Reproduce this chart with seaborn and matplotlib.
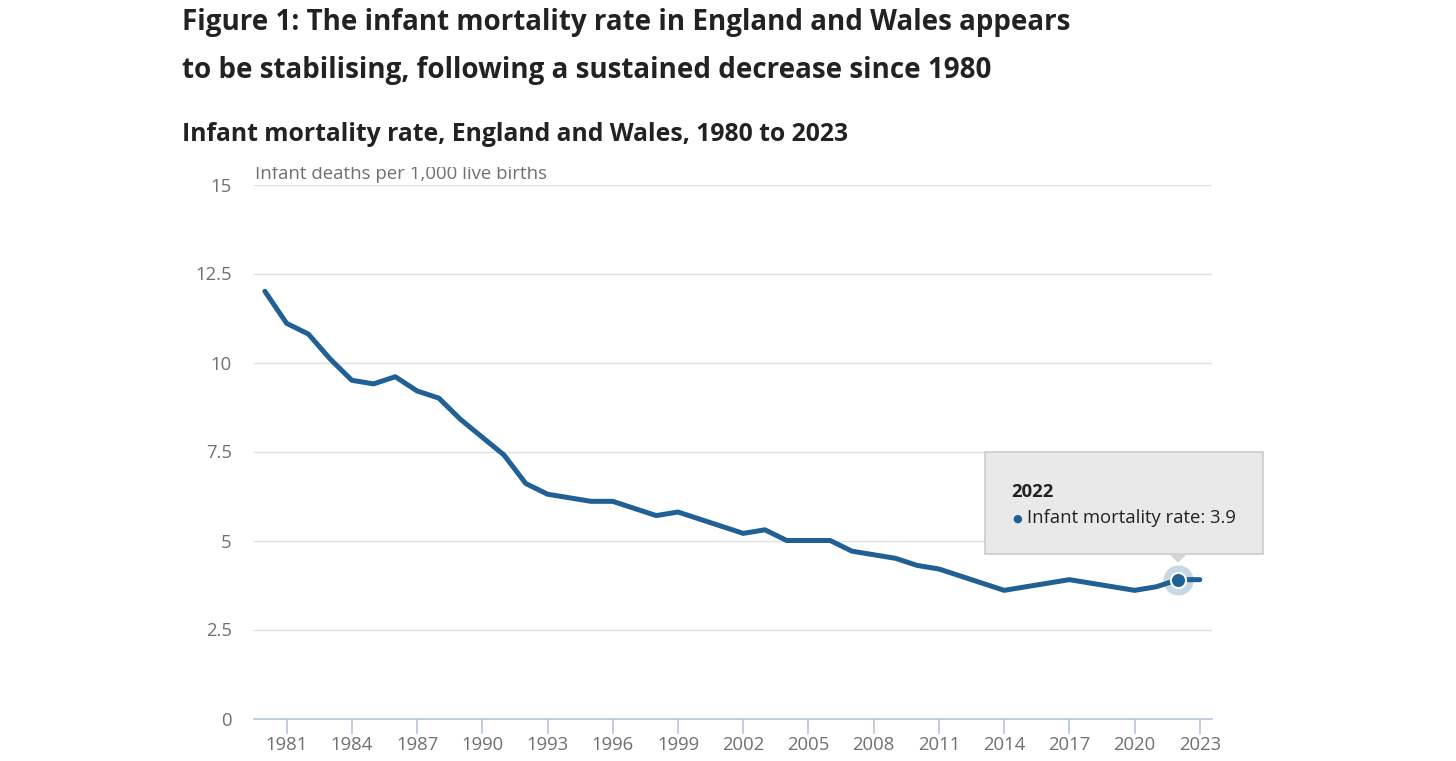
import pandas as pd
import numpy as np
import matplotlib
matplotlib.use('Agg')
import matplotlib.pyplot as plt
import matplotlib.transforms as mtransforms
from matplotlib.patches import Rectangle, Polygon
import seaborn as sns

# Infant deaths per 1,000 live births, England and Wales
years = list(range(1980, 2024))
rates = [12.0, 11.1, 10.8, 10.1, 9.5, 9.4, 9.6, 9.2, 9.0, 8.4,
         7.9, 7.4, 6.6, 6.3, 6.2, 6.1, 6.1, 5.9, 5.7, 5.8,
         5.6, 5.4, 5.2, 5.3, 5.0, 5.0, 5.0, 4.7, 4.6, 4.5,
         4.3, 4.2, 4.0, 3.8, 3.6, 3.7, 3.8, 3.9, 3.8, 3.7,
         3.6, 3.7, 3.9, 3.9]
x_ticks = list(range(1981, 2024, 3))
y_ticks = [0, 2.5, 5, 7.5, 10, 12.5, 15]
y_tick_labels = ['0', '2.5', '5', '7.5', '10', '12.5', '15']
hover_year = 2022

df = pd.DataFrame({'year': years, 'rate': rates})

sns.set_theme(style='white')
plt.rcParams['font.family'] = ['Open Sans', 'DejaVu Sans']

LINE = '#206095'
GRID = '#e0e0e0'
AXIS = '#b8c6dc'
TICKTXT = '#707070'
DARK = '#222222'

W, H = 1456, 761
fig = plt.figure(figsize=(W / 100, H / 100), dpi=100)
ax = fig.add_axes([254 / W, (H - 718.5) / H, (1212 - 254) / W, (718.5 - 184.5) / H])

sns.lineplot(data=df, x='year', y='rate', ax=ax, color=LINE, linewidth=3.6,
             solid_capstyle='round', solid_joinstyle='round', zorder=3)

# highlighted point
hv = df[df['year'] == hover_year]
sns.scatterplot(data=hv, x='year', y='rate', ax=ax, s=470, color=LINE,
                alpha=0.25, linewidth=0, zorder=4, legend=False)
sns.scatterplot(data=hv, x='year', y='rate', ax=ax, s=120, color=LINE,
                edgecolor='white', linewidth=1.5, zorder=5, legend=False)

ax.set_xlim(1979.5, 2023.56)
ax.set_ylim(0, 15)
ax.set_xticks(x_ticks)
ax.set_xticklabels([str(y) for y in x_ticks])
ax.set_yticks(y_ticks)
ax.set_yticklabels(y_tick_labels)
ax.set_xlabel('')
ax.set_ylabel('')

for v in y_ticks[1:]:
    ax.axhline(v, color=GRID, linewidth=1.0, zorder=1)

for side in ['top', 'right', 'left']:
    ax.spines[side].set_visible(False)
ax.spines['bottom'].set_color(AXIS)
ax.spines['bottom'].set_linewidth(1.2)

ax.tick_params(axis='x', which='major', length=11, width=1.2, color=AXIS,
               labelsize=13.3, labelcolor=TICKTXT, pad=1.5, bottom=True)
ax.tick_params(axis='y', which='major', length=0, labelsize=13.3,
               labelcolor=TICKTXT, pad=16)

# tooltip, placed in pixel offsets from the hovered point
px, py = ax.transData.transform((hover_year, hv['rate'].iloc[0]))
tr = mtransforms.Affine2D().translate(px, py)
box = Rectangle((-193, 25.7), 278, 102, transform=tr, facecolor='#e9e9e9',
                edgecolor='#cccccc', linewidth=1.2, zorder=6, clip_on=False)
ax.add_patch(box)
tri = Polygon([(-9, 25.7), (9, 25.7), (0, 17)], closed=True, transform=tr,
              facecolor='#d4d4d4', edgecolor='none', zorder=6, clip_on=False)
ax.add_patch(tri)
ax.text(-167, 82.7, str(hover_year), transform=tr, fontsize=13.3,
        fontweight='bold', color=DARK, va='baseline', ha='left', zorder=7)
ax.text(-161, 60.7, '\u25cf', transform=tr, fontsize=8, color=LINE,
        va='center', ha='center', zorder=7, family=['DejaVu Sans'])
ax.text(-151, 56.7, 'Infant mortality rate: %.1f' % hv['rate'].iloc[0],
        transform=tr, fontsize=13.3, color=DARK, va='baseline', ha='left',
        zorder=7)

# titles
fig.text(182 / W, (H - 30) / H,
         'Figure 1: The infant mortality rate in England and Wales appears',
         fontsize=20, fontweight='bold', color=DARK, va='baseline', ha='left')
fig.text(182 / W, (H - 78) / H,
         'to be stabilising, following a sustained decrease since 1980',
         fontsize=20, fontweight='bold', color=DARK, va='baseline', ha='left')
fig.text(182 / W, (H - 141) / H,
         'Infant mortality rate, England and Wales, 1980 to 2023',
         fontsize=17.8, fontweight='bold', color=DARK, va='baseline', ha='left')

# axis unit label, clipped at the top as in the source
unit = fig.text(255 / W, (H - 179) / H, 'Infant deaths per 1,000 live births',
                fontsize=13.4, color=TICKTXT, va='baseline', ha='left')
clip = Rectangle((0, 0), 1, (H - 167) / H, transform=fig.transFigure,
                 facecolor='none', edgecolor='none')
fig.add_artist(clip)
unit.set_clip_path(clip)

fig.savefig('out.png', dpi=100)
